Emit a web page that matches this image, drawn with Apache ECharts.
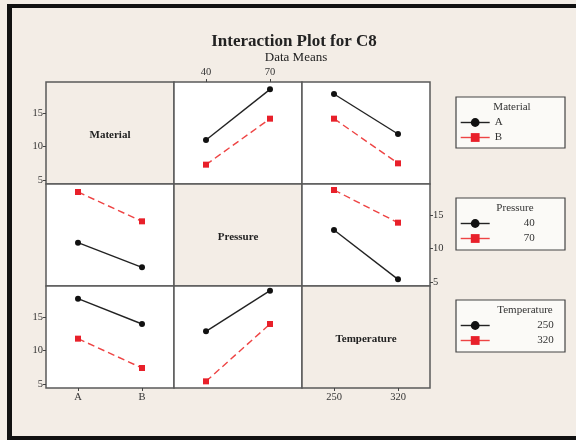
<!DOCTYPE html>
<html><head><meta charset="utf-8">
<script src="https://cdn.jsdelivr.net/npm/echarts@6/dist/echarts.min.js"></script>
<style>html,body{margin:0;padding:0;background:#f3ede6}#c{width:576px;height:440px}</style>
</head><body><div id="c"></div>
<script>
// ---- data (cell means) ----
const factors = ['Material', 'Pressure', 'Temperature'];
const materialCats = ['A', 'B'];
const pressureCats = ['40', '70'];
const temperatureCats = ['250', '320'];
const yTicks = [5, 10, 15];
// Row 1: Material traces
const matA_byPressure = [11.0, 18.6];
const matB_byPressure = [7.3, 14.2];
const matA_byTemperature = [17.9, 11.9];
const matB_byTemperature = [14.2, 7.5];
// Row 2: Pressure traces
const pres40_byMaterial = [10.9, 7.2];
const pres70_byMaterial = [18.5, 14.1];
const pres40_byTemperature = [12.8, 5.4];
const pres70_byTemperature = [18.8, 13.9];
// Row 3: Temperature traces
const temp250_byMaterial = [17.8, 14.0];
const temp320_byMaterial = [11.8, 7.4];
const temp250_byPressure = [12.9, 19.0];
const temp320_byPressure = [5.4, 14.0];

const catsByCol = [materialCats, pressureCats, temperatureCats];
const panels = [
  {r:0, c:1, names: materialCats, values: [matA_byPressure, matB_byPressure]},
  {r:0, c:2, names: materialCats, values: [matA_byTemperature, matB_byTemperature]},
  {r:1, c:0, names: pressureCats, values: [pres40_byMaterial, pres70_byMaterial]},
  {r:1, c:2, names: pressureCats, values: [pres40_byTemperature, pres70_byTemperature]},
  {r:2, c:0, names: temperatureCats, values: [temp250_byMaterial, temp320_byMaterial]},
  {r:2, c:1, names: temperatureCats, values: [temp250_byPressure, temp320_byPressure]}
];

// ---- layout ----
const colLeft = [46, 174, 302], colW = 128;
const rowTop = [82, 184, 286], rowH = 102;
const BG = '#f3ede6';
const FONT = '"Liberation Serif", "DejaVu Serif", serif';
const BLACK = '#111111', RED = '#e8202a';

const grids = [], xAxes = [], yAxes = [], series = [], graphics = [];
for (let r = 0; r < 3; r++) {
  for (let c = 0; c < 3; c++) {
    const gi = r * 3 + c;
    grids.push({left: colLeft[c], top: rowTop[r], width: colW, height: rowH, show: true,
      backgroundColor: r === c ? BG : '#ffffff', borderColor: '#5a5a5a', borderWidth: 1.5, containLabel: false});
    const xLab = (c === 1 && r === 0) || (c !== 1 && r === 2);
    xAxes.push({gridIndex: gi, type: 'category', data: catsByCol[c], boundaryGap: true,
      position: (c === 1 && r === 0) ? 'top' : 'bottom', show: xLab,
      axisLine: {show: false}, splitLine: {show: false},
      axisTick: {show: true, alignWithLabel: true, length: 3, lineStyle: {color: '#444', width: 1}},
      axisLabel: {show: true, color: '#333', fontFamily: FONT, fontSize: 10.5, margin: 4}});
    const yLab = (c === 0 && r !== 1) || (c === 2 && r === 1);
    yAxes.push({gridIndex: gi, type: 'value', min: 4.4, max: 19.7, show: yLab,
      position: c === 2 ? 'right' : 'left',
      axisLine: {show: false}, splitLine: {show: false},
      axisTick: {show: true, length: 3, customValues: yTicks, lineStyle: {color: '#444', width: 1}},
      axisLabel: {show: true, customValues: yTicks, color: '#333', fontFamily: FONT, fontSize: 10.5, margin: 3}});
    if (r === c) {
      graphics.push({type: 'text', x: colLeft[c] + colW / 2, y: rowTop[r] + rowH / 2 + 2,
        style: {text: factors[r], font: 'bold 11px ' + FONT, fill: '#222', align: 'center', verticalAlign: 'middle'}});
    }
  }
}
panels.forEach(p => {
  const gi = p.r * 3 + p.c;
  p.names.forEach((nm, k) => {
    series.push({type: 'line', name: nm, xAxisIndex: gi, yAxisIndex: gi, data: p.values[k],
      symbol: k === 0 ? 'circle' : 'rect', symbolSize: 6,
      itemStyle: {color: k === 0 ? BLACK : RED},
      lineStyle: {color: k === 0 ? '#222' : '#ee4444', width: 1.4, type: k === 0 ? 'solid' : [7, 4]},
      animation: false});
  });
});

// legend boxes
const legendBoxes = [
  {title: 'Material', y: 97, h: 51, names: materialCats, titleX: 512, textW: 0},
  {title: 'Pressure', y: 198, h: 52, names: pressureCats, titleX: 515, textW: 40},
  {title: 'Temperature', y: 300, h: 52, names: temperatureCats, titleX: 525, textW: 59}
];
const legends = legendBoxes.map(b => {
  graphics.push({type: 'rect', shape: {x: 456, y: b.y, width: 109, height: b.h},
    style: {fill: '#fbfaf7', stroke: '#444', lineWidth: 1.2}, z: -1});
  graphics.push({type: 'text', x: b.titleX, y: b.y + 10,
    style: {text: b.title, font: '11px ' + FONT, fill: '#333', align: 'center', verticalAlign: 'middle'}});
  const ts = {color: '#333', fontFamily: FONT, fontSize: 11};
  const lg = {data: b.names, orient: 'vertical', left: 460, top: b.y + 20, padding: 0,
    itemWidth: 29, itemHeight: 11, itemGap: 4, lineStyle: {type: 'solid', width: 1.4},
    textStyle: ts, selectedMode: false};
  if (b.textW) {
    lg.formatter = '{r|{name}}';
    ts.rich = {r: {width: b.textW, align: 'right', fontFamily: FONT, fontSize: 11, color: '#333'}};
  }
  return lg;
});

// frame
graphics.push({type: 'rect', shape: {x: 7, y: 4, width: 569, height: 4}, style: {fill: '#111'}});
graphics.push({type: 'rect', shape: {x: 7, y: 4, width: 5, height: 436}, style: {fill: '#111'}});
graphics.push({type: 'rect', shape: {x: 7, y: 436, width: 569, height: 4}, style: {fill: '#111'}});

const chart = echarts.init(document.getElementById('c'), null, {renderer: 'canvas'});
chart.setOption({
  backgroundColor: BG,
  animation: false,
  title: [
    {text: 'Interaction Plot for C8', left: 289, top: 28, textAlign: 'center',
      textStyle: {fontFamily: FONT, fontWeight: 'bold', fontSize: 17, color: '#222'}},
    {text: 'Data Means', left: 291, top: 46, textAlign: 'center',
      textStyle: {fontFamily: FONT, fontWeight: 'normal', fontSize: 13, color: '#222'}}
  ],
  grid: grids, xAxis: xAxes, yAxis: yAxes, series: series,
  legend: legends,
  graphic: graphics
});
</script></body></html>
